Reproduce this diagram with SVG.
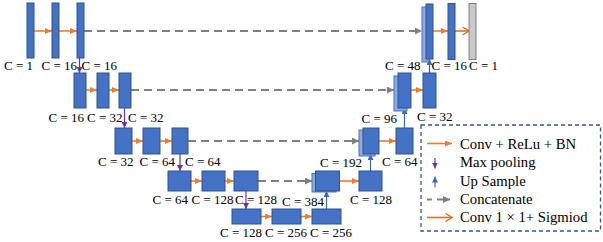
<svg xmlns="http://www.w3.org/2000/svg" width="603" height="242" viewBox="0 0 603 242">
<style>
.b{fill:#4472c4;stroke:#2f528f;stroke-width:1}
.s{fill:#8eaadb;stroke:#4472c4;stroke-width:1}
.g{fill:#c9c9c9;stroke:#7f7f7f;stroke-width:1}
.t{font-family:"Liberation Serif","Times New Roman",serif;font-size:13px;fill:#000}
.lt{font-family:"Liberation Serif","Times New Roman",serif;font-size:14.7px;fill:#000}
.o{stroke:#ed7d31;stroke-width:1.6;fill:none;marker-end:url(#ao)}
.oo{stroke:#e2701f;stroke-width:1.6;fill:none;marker-end:url(#aoo)}
.p{stroke:#7030a0;stroke-width:1.2;fill:none;marker-end:url(#ap)}
.u{stroke:#3b67b8;stroke-width:1.2;fill:none;marker-end:url(#au)}
.d{stroke:#7f7f7f;stroke-width:2;stroke-dasharray:8 5;fill:none;marker-end:url(#ag)}
</style>
<defs>
<marker id="ao" markerWidth="7" markerHeight="6" refX="7" refY="3" orient="auto" markerUnits="userSpaceOnUse"><path d="M0,0 L7,3 L0,6 z" fill="#ed7d31"/></marker>
<marker id="aoo" markerWidth="8" markerHeight="9" refX="7.5" refY="4.5" orient="auto" markerUnits="userSpaceOnUse"><path d="M1,0.5 L7.5,4.5 L1,8.5" fill="none" stroke="#e2701f" stroke-width="1.4"/></marker>
<marker id="ap" markerWidth="6" markerHeight="6" refX="6" refY="3" orient="auto" markerUnits="userSpaceOnUse"><path d="M0,0 L6,3 L0,6 z" fill="#7030a0"/></marker>
<marker id="au" markerWidth="6" markerHeight="6" refX="6" refY="3" orient="auto" markerUnits="userSpaceOnUse"><path d="M0,0 L6,3 L0,6 z" fill="#3b67b8"/></marker>
<marker id="ag" markerWidth="7" markerHeight="7" refX="7" refY="3.5" orient="auto" markerUnits="userSpaceOnUse"><path d="M0,0 L7,3.5 L0,7 z" fill="#7f7f7f"/></marker>
</defs>

<g id="connectors">
<!-- skip connections -->
<line class="d" x1="84" y1="31" x2="422" y2="31"/>
<line class="d" x1="131" y1="90" x2="394" y2="90"/>
<line class="d" x1="188" y1="141" x2="359" y2="141"/>
<line class="d" x1="258" y1="181" x2="312" y2="181"/>
<!-- encoder conv -->
<line class="o" x1="34" y1="31" x2="52" y2="31"/>
<line class="o" x1="59" y1="31" x2="77" y2="31"/>
<line class="o" x1="86" y1="90" x2="97" y2="90"/>
<line class="o" x1="109" y1="90" x2="119" y2="90"/>
<line class="o" x1="132" y1="141" x2="143" y2="141"/>
<line class="o" x1="160" y1="141" x2="172" y2="141"/>
<line class="o" x1="191" y1="181" x2="202" y2="181"/>
<line class="o" x1="225" y1="181" x2="234" y2="181"/>
<line class="o" x1="261" y1="216.5" x2="272" y2="216.5"/>
<line class="o" x1="301" y1="216.5" x2="312" y2="216.5"/>
<!-- decoder conv -->
<line class="o" x1="339.5" y1="181" x2="359" y2="181"/>
<line class="o" x1="379" y1="141" x2="396" y2="141"/>
<line class="o" x1="411" y1="90" x2="423" y2="90"/>
<line class="o" x1="433" y1="31" x2="448" y2="31"/>
<line class="oo" x1="455" y1="31" x2="469" y2="31"/>
<!-- max pooling -->
<line class="p" x1="79.5" y1="58" x2="79.5" y2="73"/>
<line class="p" x1="124.5" y1="108" x2="124.5" y2="128"/>
<line class="p" x1="180" y1="154" x2="180" y2="171"/>
<line class="p" x1="246" y1="191" x2="246" y2="209"/>
<!-- up sample -->
<line class="u" x1="326.5" y1="209" x2="326.5" y2="191"/>
<line class="u" x1="370.5" y1="171" x2="370.5" y2="154"/>
<line class="u" x1="404.5" y1="128" x2="404.5" y2="108"/>
<line class="u" x1="429.5" y1="73" x2="429.5" y2="59"/>
</g>

<!-- encoder level 1 -->
<g id="e1a"><rect class="b" x="27" y="3" width="7" height="55"/><text class="t" x="4" y="69.5">C = 1</text></g>
<g id="e1b"><rect class="b" x="52" y="3" width="7" height="55"/><text class="t" x="41.5" y="69.5">C = 16</text></g>
<g id="e1c"><rect class="b" x="77" y="3" width="7" height="55"/><text class="t" x="81.5" y="69.5">C = 16</text></g>
<!-- encoder level 2 -->
<g id="e2a"><rect class="b" x="74" y="73" width="12" height="35"/><text class="t" x="48.5" y="121.5">C = 16</text></g>
<g id="e2b"><rect class="b" x="97" y="73" width="12" height="35"/><text class="t" x="87" y="121.5">C = 32</text></g>
<g id="e2c"><rect class="b" x="119" y="73" width="12" height="35"/><text class="t" x="128" y="121.5">C = 32</text></g>
<!-- encoder level 3 -->
<g id="e3a"><rect class="b" x="115" y="128" width="17" height="26"/><text class="t" x="98" y="166">C = 32</text></g>
<g id="e3b"><rect class="b" x="143" y="128" width="17" height="26"/><text class="t" x="139.5" y="166">C = 64</text></g>
<g id="e3c"><rect class="b" x="172" y="128" width="16" height="26"/><text class="t" x="185" y="166">C = 64</text></g>
<!-- encoder level 4 -->
<g id="e4a"><rect class="b" x="168" y="171" width="23" height="20"/><text class="t" x="152.5" y="204">C = 64</text></g>
<g id="e4b"><rect class="b" x="202" y="171" width="23" height="20"/><text class="t" x="191.5" y="204">C = 128</text></g>
<g id="e4c"><rect class="b" x="234" y="171" width="24" height="20"/><text class="t" x="235" y="204">C = 128</text></g>
<!-- bottleneck -->
<g id="b5a"><rect class="b" x="232" y="209" width="29" height="15"/><text class="t" x="220" y="237">C = 128</text></g>
<g id="b5b"><rect class="b" x="272" y="209" width="29" height="15"/><text class="t" x="265" y="237">C = 256</text></g>
<g id="b5c"><rect class="b" x="312" y="209" width="29" height="15"/><text class="t" x="310" y="237">C = 256</text></g>
<!-- decoder level 4 -->
<g id="d4a"><rect class="s" x="312" y="173.5" width="24" height="18.5"/><rect class="b" x="315.5" y="171" width="24" height="20"/><text class="t" x="282" y="206">C = 384</text><text class="t" x="320" y="167">C = 192</text></g>
<g id="d4b"><rect class="b" x="359" y="171" width="23" height="20"/><text class="t" x="350" y="204">C = 128</text></g>
<!-- decoder level 3 -->
<g id="d3a"><rect class="s" x="359" y="130" width="16" height="26"/><rect class="b" x="363" y="128" width="16" height="26"/><text class="t" x="361.5" y="123">C = 96</text></g>
<g id="d3b"><rect class="b" x="396" y="128" width="17" height="26"/><text class="t" x="382" y="166">C = 64</text></g>
<!-- decoder level 2 -->
<g id="d2a"><rect class="s" x="394" y="76" width="13" height="35"/><rect class="b" x="398" y="73" width="13" height="35"/></g>
<g id="d2b"><rect class="b" x="423" y="73" width="13" height="35"/><text class="t" x="417" y="121">C = 32</text></g>
<!-- decoder level 1 -->
<g id="d1a"><rect class="s" x="422" y="7" width="7" height="55"/><rect class="b" x="426" y="4" width="7" height="55"/><text class="t" x="385" y="69.5">C = 48</text></g>
<g id="d1b"><rect class="b" x="448" y="3.5" width="7" height="56"/><text class="t" x="431.5" y="69.5">C = 16</text></g>
<g id="out"><rect class="g" x="469" y="3.5" width="7" height="56"/><text class="t" x="469" y="69.5">C = 1</text></g>

<!-- legend -->
<g id="legend">
<rect x="421" y="125" width="179.5" height="106" fill="none" stroke="#2f5597" stroke-width="1.3" stroke-dasharray="4 3"/>
<line class="o" x1="427" y1="143.5" x2="452" y2="143.5"/>
<text class="lt" x="460" y="148.5">Conv + ReLu + BN</text>
<line class="p" x1="435" y1="158" x2="435" y2="168.5"/>
<text class="lt" x="460" y="167">Max pooling</text>
<line class="u" x1="435" y1="187.5" x2="435" y2="176.5"/>
<text class="lt" x="460" y="185.5">Up Sample</text>
<line x1="427" y1="199.5" x2="432" y2="199.5" stroke="#7f7f7f" stroke-width="2"/>
<line x1="437" y1="199.5" x2="450" y2="199.5" stroke="#7f7f7f" stroke-width="2" marker-end="url(#ag)"/>
<text class="lt" x="460" y="204">Concatenate</text>
<line class="oo" x1="427" y1="217.5" x2="452" y2="217.5"/>
<text class="lt" x="460" y="222">Conv 1 × 1+ Sigmiod</text>
</g>
</svg>
